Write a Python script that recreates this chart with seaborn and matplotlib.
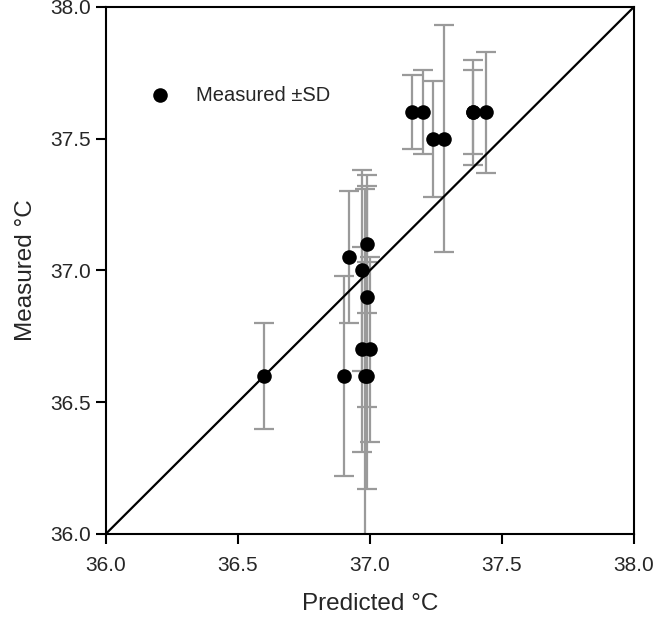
import matplotlib
matplotlib.use('Agg')
import matplotlib.pyplot as plt
import seaborn as sns
import pandas as pd

# Values
predicted = [36.60, 36.90, 36.92, 36.97, 36.97, 36.98, 36.99, 36.99, 36.99, 37.00,
             37.16, 37.20, 37.24, 37.28, 37.39, 37.39, 37.44]
measured = [36.60, 36.60, 37.05, 37.00, 36.70, 36.60, 37.10, 36.90, 36.60, 36.70,
            37.60, 37.60, 37.50, 37.50, 37.60, 37.60, 37.60]
sd = [0.20, 0.38, 0.25, 0.38, 0.39, 0.71, 0.26, 0.42, 0.43, 0.35,
      0.14, 0.16, 0.22, 0.43, 0.20, 0.16, 0.23]
ticks = [36.0, 36.5, 37.0, 37.5, 38.0]
tick_labels = ['36.0', '36.5', '37.0', '37.5', '38.0']

df = pd.DataFrame({'predicted': predicted, 'measured': measured, 'sd': sd})

sns.set_style('ticks')
plt.rcParams['font.family'] = ['Liberation Sans', 'DejaVu Sans']

fig, ax = plt.subplots(figsize=(6.53, 6.18), dpi=100)
fig.subplots_adjust(left=0.162, right=0.971, top=0.989, bottom=0.136)

# SD bars
ax.errorbar(df['predicted'], df['measured'], yerr=df['sd'], fmt='none',
            ecolor='#9a9a9a', elinewidth=1.6, capsize=7, capthick=1.6, zorder=1)

# line of identity
ax.plot([36, 38], [36, 38], color='black', linewidth=1.6, zorder=2)

sns.scatterplot(data=df, x='predicted', y='measured', ax=ax, color='black',
                s=110, edgecolor='black', linewidth=0, zorder=3,
                label='Measured \u00b1SD')

ax.set_xlim(36, 38)
ax.set_ylim(36, 38)
ax.set_xticks(ticks)
ax.set_xticklabels(tick_labels)
ax.set_yticks(ticks)
ax.set_yticklabels(tick_labels)
ax.tick_params(axis='both', labelsize=15, length=7, width=1.5, color='black',
               direction='out', top=False, right=False)
ax.tick_params(axis='x', pad=9)
for sp in ax.spines.values():
    sp.set_visible(True)
    sp.set_color('black')
    sp.set_linewidth(1.5)

ax.set_xlabel('Predicted \u00b0C', fontsize=17.5, labelpad=13)
ax.set_ylabel('Measured \u00b0C', fontsize=17.5, labelpad=10)

ax.legend(loc='upper left', bbox_to_anchor=(0.03, 0.885), frameon=False,
          fontsize=14.5, handletextpad=0.8, markerscale=1.0)

plt.savefig('out.png', dpi=100)
